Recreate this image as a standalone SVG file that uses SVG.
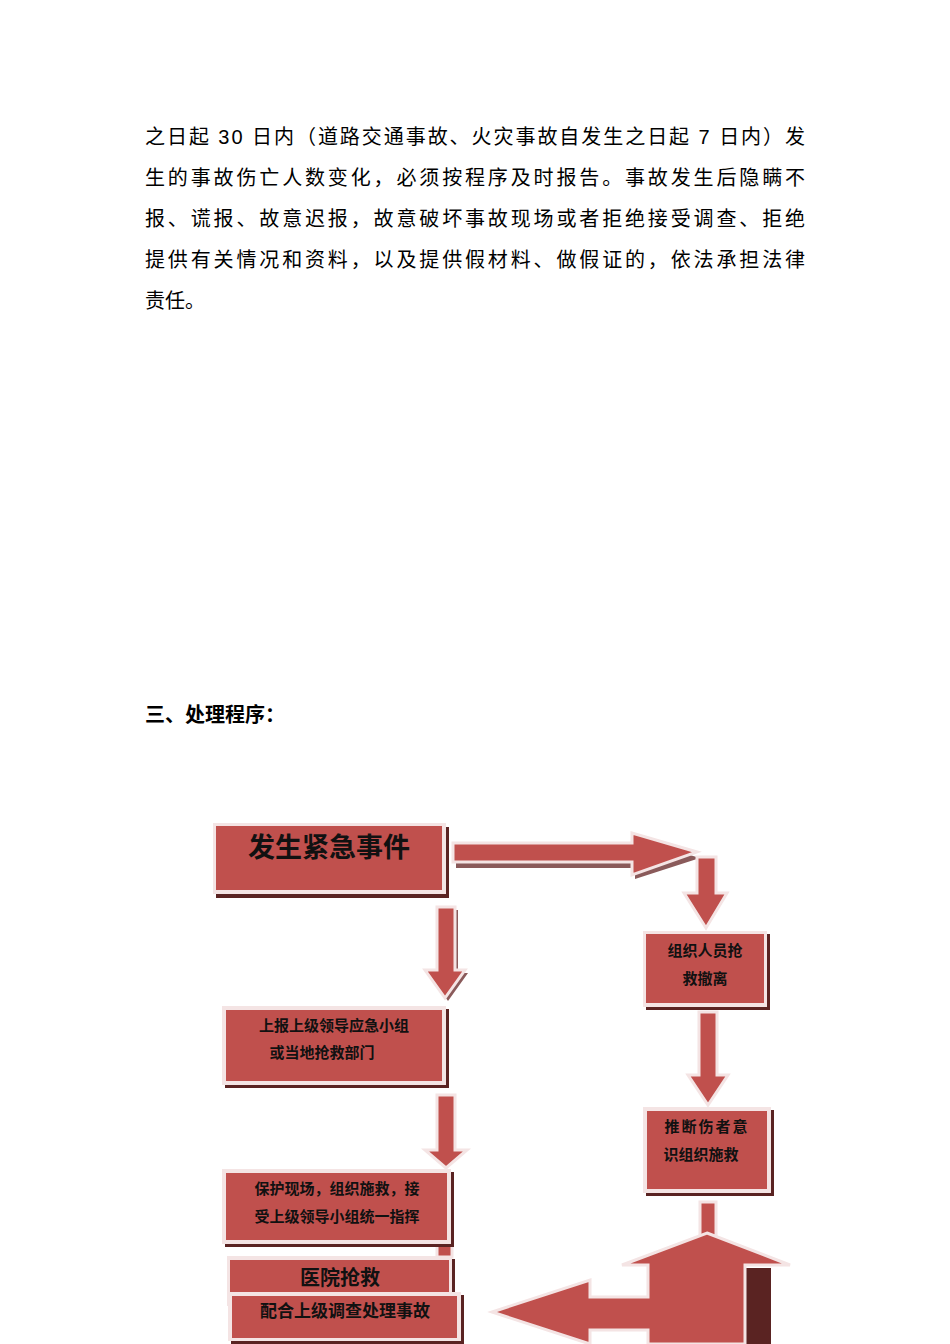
<svg xmlns="http://www.w3.org/2000/svg" width="950" height="1344" viewBox="0 0 950 1344">
<style>
.t{font-family:"Liberation Sans","Noto Sans CJK SC",sans-serif;font-size:20px;fill:#000}
.n{font-family:"Noto Sans CJK SC",sans-serif;font-weight:bold;fill:#111;text-anchor:middle}
.sh{fill:#5a2322}
.bd{fill:#f4e4e4}
.rd{fill:#c0504d}
.ar{fill:#c0504d;stroke:#f4e4e4;stroke-width:3}
.as{fill:#8a5a5a}
</style>
<rect width="950" height="1344" fill="#fff"/>
<g id="body">
<text class="t" x="145" y="144" textLength="660" lengthAdjust="spacing">之日起 30 日内（道路交通事故、火灾事故自发生之日起 7 日内）发</text>
<text class="t" x="145" y="185" textLength="660" lengthAdjust="spacing">生的事故伤亡人数变化，必须按程序及时报告。事故发生后隐瞒不</text>
<text class="t" x="145" y="226" textLength="660" lengthAdjust="spacing">报、谎报、故意迟报，故意破坏事故现场或者拒绝接受调查、拒绝</text>
<text class="t" x="145" y="267" textLength="660" lengthAdjust="spacing">提供有关情况和资料，以及提供假材料、做假证的，依法承担法律</text>
<text class="t" x="145" y="308">责任。</text>
<text class="t" x="145" y="722" font-weight="bold">三、处理程序：</text>
</g>
<g id="connectors">
<polygon class="as" points="456,849 635,849 635,839 700,858 635,879 635,868 456,868"/>
<polygon class="ar" points="453,843 632,843 632,833 697,852 632,875 632,862 453,862"/>
<polygon class="as" points="440,910 458,910 458,973 468,973 448,1001 428,973 440,973"/>
<polygon class="ar" points="437,907 455,907 455,970 465,970 445,998 425,970 437,970"/>
<polygon class="ar" points="697,857 716,857 716,893 727,893 706,928 684,893 697,893"/>
<polygon class="ar" points="699,1012 717,1012 717,1075 728,1075 708,1105 688,1075 699,1075"/>
<polygon class="ar" points="437,1095 455,1095 455,1150 467,1150 446,1168 425,1150 437,1150"/>
<rect class="ar" x="437" y="1245" width="15" height="12"/>
<rect class="ar" x="700" y="1202" width="16" height="34"/>
<polygon class="sh" points="652,1268 652,1344 771,1344 771,1268"/>
<polygon class="ar" points="707,1233 790,1265 745,1265 745,1344 648,1344 648,1330 590,1330 590,1344 492,1312 590,1280 590,1297 648,1297 648,1265 622,1265"/>
</g>
<g id="n1"><rect class="sh" x="216" y="827" width="233" height="71"/><rect class="bd" x="213" y="823" width="233" height="71"/><rect class="rd" x="216" y="826" width="226" height="64"/><text class="n" x="329" y="857" font-size="27">发生紧急事件</text></g>
<g id="n2"><rect class="sh" x="646" y="934" width="124" height="76"/><rect class="bd" x="643" y="931" width="124" height="76"/><rect class="rd" x="646" y="934" width="118" height="69"/><text class="n" x="705" y="956" font-size="15">组织人员抢</text><text class="n" x="705" y="984" font-size="15">救撤离</text></g>
<g id="n3"><rect class="sh" x="225" y="1009" width="224" height="79"/><rect class="bd" x="222" y="1006" width="224" height="79"/><rect class="rd" x="226" y="1010" width="216" height="71"/><text class="n" x="334" y="1031" font-size="15">上报上级领导应急小组</text><text class="n" x="322" y="1058" font-size="15">或当地抢救部门</text></g>
<g id="n4"><rect class="sh" x="646" y="1110" width="128" height="86"/><rect class="bd" x="643" y="1107" width="128" height="86"/><rect class="rd" x="647" y="1111" width="120" height="78"/><text class="n" x="707" y="1132" font-size="15" letter-spacing="2">推断伤者意</text><text class="n" x="701" y="1160" font-size="15">识组织施救</text></g>
<g id="n5"><rect class="sh" x="225" y="1172" width="229" height="75"/><rect class="bd" x="222" y="1169" width="229" height="75"/><rect class="rd" x="226" y="1173" width="221" height="67"/><text class="n" x="337" y="1194" font-size="15">保护现场，组织施救，接</text><text class="n" x="337" y="1222" font-size="15">受上级领导小组统一指挥</text></g>
<g id="n6"><rect class="sh" x="230" y="1259" width="225" height="50"/><rect class="bd" x="227" y="1256" width="225" height="50"/><rect class="rd" x="230" y="1260" width="219" height="46"/><text class="n" x="340" y="1285" font-size="20">医院抢救</text></g>
<g id="n7"><rect class="sh" x="231" y="1295" width="233" height="49"/><rect class="bd" x="228" y="1292" width="233" height="49"/><rect class="rd" x="232" y="1296" width="225" height="42"/><text class="n" x="345" y="1317" font-size="17">配合上级调查处理事故</text></g>
</svg>
